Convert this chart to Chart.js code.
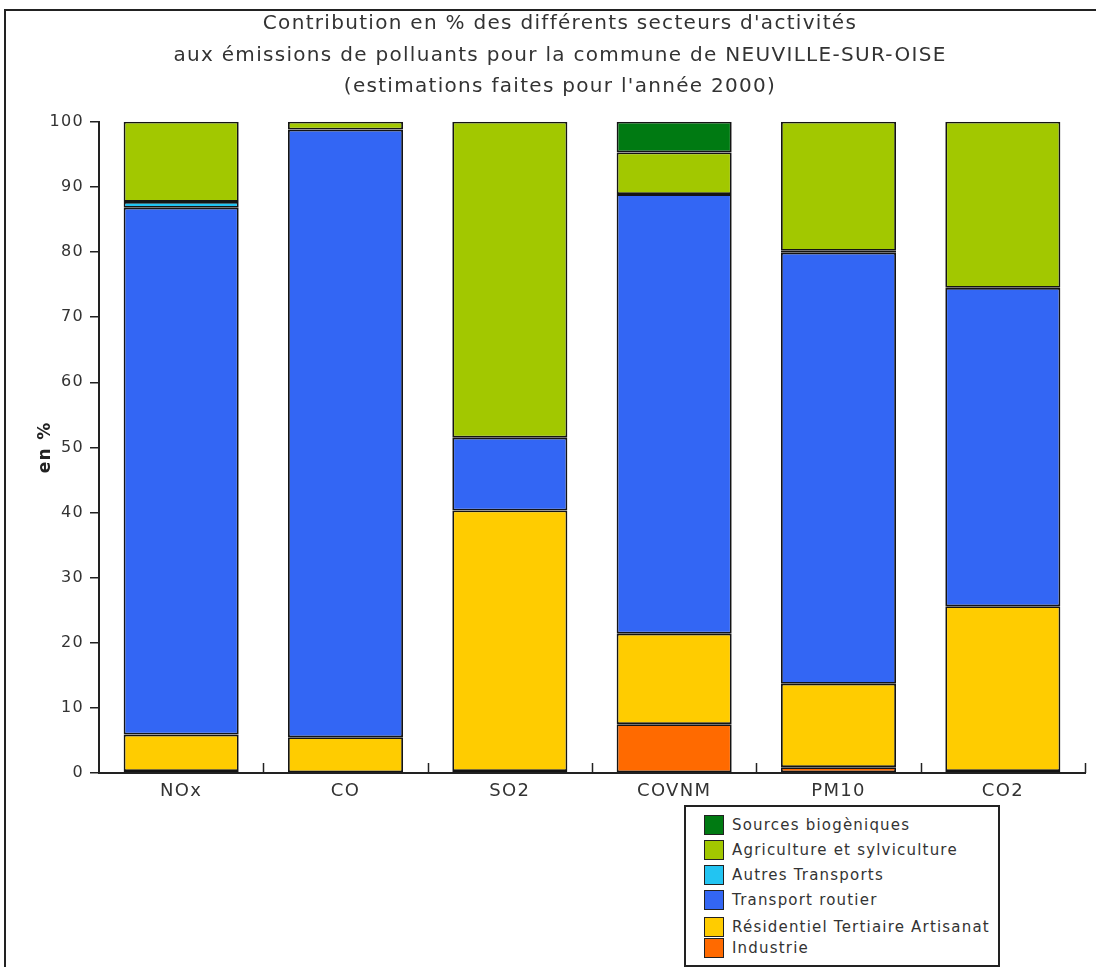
<!DOCTYPE html>
<html>
<head>
<meta charset="utf-8">
<script src="https://cdn.jsdelivr.net/npm/chart.js@4/dist/chart.umd.min.js"></script>
<style>
  html, body { margin: 0; padding: 0; background: #fff; }
  #wrap { position: relative; width: 1096px; height: 967px; overflow: hidden; }
  #frame { position: absolute; left: 4px; top: 9px; width: 1100px; height: 970px;
           border-left: 2px solid #222; border-top: 2px solid #222; }
  #chart { position: absolute; left: 0; top: 0; }
  #legend { position: absolute; left: 684px; top: 805px; width: 312px; height: 158px;
            border: 2px solid #222; background: #fff; font-family: "DejaVu Sans", Verdana, sans-serif;
            font-size: 15px; color: #333; letter-spacing: 1.2px; }
  .item { position: absolute; left: 18px; height: 20px; line-height: 20px; }
  .item i { position: absolute; left: 0; top: 0; width: 18px; height: 18px; border: 1px solid #222; }
  .item span { position: absolute; left: 28px; white-space: nowrap; }
</style>
</head>
<body>
<div id="wrap">
  <div id="frame"></div>
  <canvas id="chart" width="1096" height="967"></canvas>
  <div id="legend"></div>
</div>
<script>
/* ---- data ---- */
const categories = ['NOx', 'CO', 'SO2', 'COVNM', 'PM10', 'CO2'];
const industrie        = [0.3, 0.1, 0.3, 7.5, 0.9, 0.3];
const residentiel      = [5.6, 5.4, 40.0, 13.9, 12.8, 25.3];
const transportRoutier = [80.9, 93.3, 11.2, 67.5, 66.2, 48.9];
const autresTransports = [0.9, 0, 0, 0, 0.3, 0];
const agriculture      = [12.3, 1.2, 48.5, 6.4, 19.8, 25.5];
const biogeniques      = [0, 0, 0, 4.7, 0, 0];
const yTicks = { min: 0, max: 100, step: 10 };

const titleLines = [
  'Contribution en % des différents secteurs d\'activités',
  'aux émissions de polluants pour la commune de NEUVILLE-SUR-OISE',
  '(estimations faites pour l\'année 2000)'
];

const FONT = '"DejaVu Sans", Verdana, sans-serif';

const series = [
  { label: 'Industrie', data: industrie, color: '#ff6a00' },
  { label: 'Résidentiel Tertiaire Artisanat', data: residentiel, color: '#ffcc00' },
  { label: 'Transport routier', data: transportRoutier, color: '#3366f4' },
  { label: 'Autres Transports', data: autresTransports, color: '#22c4f2' },
  { label: 'Agriculture et sylviculture', data: agriculture, color: '#a2c800' },
  { label: 'Sources biogèniques', data: biogeniques, color: '#007a12' },
];

/* small inner ticks on the x axis between categories */
const innerTicks = {
  id: 'innerTicks',
  beforeDraw(chart) { chart.ctx.letterSpacing = '1.3px'; },
  afterDatasetsDraw(chart) {
    const x = chart.scales.x, ctx = chart.ctx;
    ctx.save();
    ctx.strokeStyle = '#222';
    ctx.lineWidth = 1.5;
    for (let i = 0; i < categories.length; i++) {
      const px = Math.round(x.getPixelForValue(i + 0.5)) + 0.5;
      ctx.beginPath();
      ctx.moveTo(px, x.top);
      ctx.lineTo(px, x.top - 10);
      ctx.stroke();
    }
    ctx.restore();
  }
};

const chart = new Chart(document.getElementById('chart'), {
  type: 'bar',
  data: {
    labels: categories,
    datasets: series.map((s) => ({
      label: s.label,
      data: s.data,
      backgroundColor: s.color,
      borderColor: '#141414',
      borderWidth: 1.8,
      borderSkipped: false,
      barPercentage: 0.7,
      categoryPercentage: 1,
    })),
  },
  options: {
    responsive: false,
    animation: false,
    layout: { padding: { left: 35, right: 11, top: 0, bottom: 156 } },
    plugins: {
      legend: { display: false },
      tooltip: { enabled: false },
      title: {
        display: true,
        text: titleLines,
        color: '#333',
        font: { family: FONT, size: 20, weight: 'normal', lineHeight: 1.58 },
        padding: { top: 8, bottom: 19 },
      },
    },
    scales: {
      x: {
        stacked: true,
        grid: { display: false },
        border: { color: '#222', width: 2 },
        ticks: { color: '#333', padding: 0, font: { family: FONT, size: 18 } },
        afterFit: (s) => { s.height = 38; },
      },
      y: {
        stacked: true,
        min: yTicks.min,
        max: yTicks.max,
        ticks: { stepSize: yTicks.step, color: '#333', padding: 6, font: { family: FONT, size: 16 } },
        grid: { drawOnChartArea: false, drawTicks: true, tickLength: 9, color: '#222', lineWidth: 1.5 },
        border: { color: '#222', width: 2 },
        title: { display: true, text: 'en %', color: '#222', padding: 0, font: { family: FONT, size: 17, weight: 'bold' } },
        afterFit: (s) => { s.width = 64; },
      },
    },
  },
  plugins: [innerTicks],
});

/* ---- HTML legend, top entry = top of stack ---- */
const legendEl = document.getElementById('legend');
const rowsTop = [8, 33, 58, 83, 110, 131];
[...series].reverse().forEach((s, i) => {
  const d = document.createElement('div');
  d.className = 'item';
  d.style.top = rowsTop[i] + 'px';
  d.innerHTML = `<i style="background:${s.color}"></i><span>${s.label}</span>`;
  legendEl.appendChild(d);
});
</script>
</body>
</html>
